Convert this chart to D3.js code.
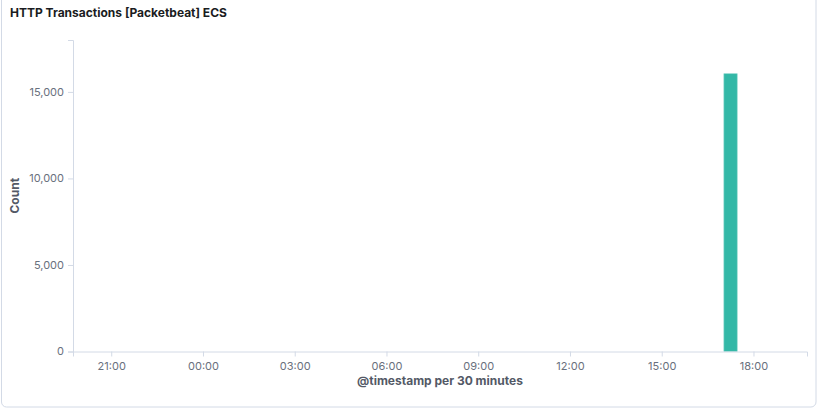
<!DOCTYPE html>
<html><head><meta charset="utf-8">
<script src="https://cdn.jsdelivr.net/npm/d3@7/dist/d3.min.js"></script>
<style>
body{margin:0;background:#fff;font-family:Inter,"Open Sans",sans-serif;}
svg{display:block;}
</style></head>
<body>
<svg id="chart" width="818" height="410"></svg>
<script>
const title = "HTTP Transactions [Packetbeat] ECS";
const yLabel = "Count";
const xLabel = "@timestamp per 30 minutes";
const domainStart = "2019-06-01T19:45:00Z";
const domainEnd = "2019-06-02T19:45:00Z";
const bucketStarts = ["2019-06-02T17:00:00Z"];
const counts = [16050];
const yTicks = [0, 5000, 10000, 15000];
const yMax = 18000;
const bucketMinutes = 30;

const svg = d3.select("#chart");
const W = 818, H = 410;
const m = {left: 73, right: 11, top: 40, bottom: 58.5};

// panel
svg.append("rect").attr("x", 1.5).attr("y", -6).attr("width", 814.5).attr("height", 413)
  .attr("rx", 5).attr("fill", "#fff").attr("stroke", "#d3dae6").attr("stroke-width", 1);

svg.append("text").attr("x", 10).attr("y", 17).text(title)
  .attr("font-size", 12).attr("font-weight", 700).attr("fill", "#1a1c21");

const parse = d3.isoParse;
const x = d3.scaleUtc().domain([parse(domainStart), parse(domainEnd)]).range([m.left, W - m.right]);
const y = d3.scaleLinear().domain([0, yMax]).range([H - m.bottom, m.top]);

const data = bucketStarts.map((t, i) => ({t: parse(t), v: counts[i]}));

const g = svg.append("g");
g.selectAll("rect.bar").data(data).enter().append("rect")
  .attr("class", "bar")
  .attr("x", d => x(d.t) + 1)
  .attr("width", d => x(new Date(+d.t + bucketMinutes * 60000)) - x(d.t) - 2)
  .attr("y", d => y(d.v))
  .attr("height", d => y(0) - y(d.v))
  .attr("fill", "#33b8a7")
  .attr("stroke", "#7fd3c8").attr("stroke-width", 0.6);

const xAxis = d3.axisBottom(x).ticks(d3.utcHour.every(3)).tickFormat(d3.utcFormat("%H:%M")).tickSize(5).tickSizeOuter(5).tickPadding(6);
const yAxis = d3.axisLeft(y).tickValues(yTicks).tickFormat(d3.format(",")).tickSize(5).tickSizeOuter(5).tickPadding(4);

const gx = svg.append("g").attr("transform", `translate(0,${H - m.bottom})`).call(xAxis);
const gy = svg.append("g").attr("transform", `translate(${m.left},0)`).call(yAxis);
[gx, gy].forEach(a => {
  a.selectAll("path,line").attr("stroke", "#d3dae6");
  a.selectAll("text").attr("fill", "#69707d").attr("font-size", 11).attr("font-family", "Inter,'Open Sans',sans-serif");
});
gy.selectAll(".tick text").attr("dy", "0.28em");

svg.append("text").attr("x", (m.left + W - m.right) / 2).attr("y", 385)
  .attr("text-anchor", "middle").text(xLabel)
  .attr("font-size", 12).attr("font-weight", 700).attr("fill", "#535966");
svg.append("text").attr("transform", `translate(19,${(m.top + H - m.bottom) / 2}) rotate(-90)`)
  .attr("text-anchor", "middle").text(yLabel)
  .attr("font-size", 12).attr("font-weight", 700).attr("fill", "#535966");
</script>
</body></html>
